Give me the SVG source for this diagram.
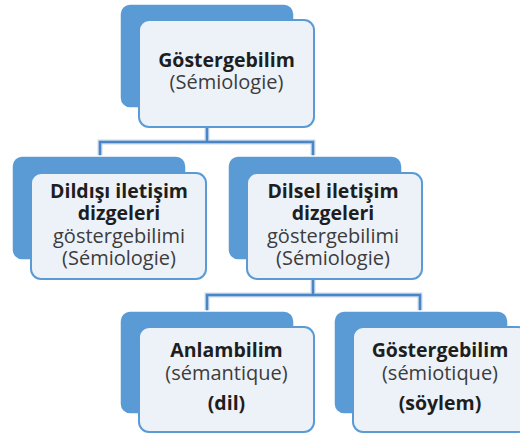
<svg xmlns="http://www.w3.org/2000/svg" width="520" height="434" viewBox="0 0 520 434">
<defs>
<style>
.back{fill:#5B9BD5;stroke:#ffffff;stroke-width:1.5}
.front{fill:#EDF2F9;stroke:#5B9BD5;stroke-width:2}
.conn{fill:none;stroke:#4A86C5;stroke-width:2.5}
.halo{fill:none;stroke:#C9DAEE;stroke-width:5}
text{font-family:"Open Sans","Liberation Sans",sans-serif;font-size:19.5px;text-anchor:middle}
.b{font-weight:bold;fill:#1E1E1E}
.r{fill:#3C3C3C;font-size:20px}
</style>
</defs>
<rect width="520" height="434" fill="#ffffff"/>
<g id="connectors">
<path class="halo" d="M207,108V142M100,156V142H313V156M313,260V295M207,311V295H420V311"/>
<path class="conn" d="M207,108V142M100,156V142H313V156M313,260V295M207,311V295H420V311"/>
</g>
<g id="node-root">
<rect class="back" x="120" y="4" width="174" height="104" rx="10"/>
<rect class="front" x="139" y="20" width="175" height="107" rx="10"/>
<text class="b" x="226.5" y="67">Göstergebilim</text>
<text class="r" x="226.5" y="89">(Sémiologie)</text>
</g>
<g id="node-dildisi">
<rect class="back" x="12" y="156" width="174" height="104" rx="10"/>
<rect class="front" x="31" y="173" width="175" height="106" rx="10"/>
<text class="b" x="119" y="198">Dildışı iletişim</text>
<text class="b" x="119" y="220">dizgeleri</text>
<text class="r" x="119" y="243">göstergebilimi</text>
<text class="r" x="119" y="265">(Sémiologie)</text>
</g>
<g id="node-dilsel">
<rect class="back" x="228" y="156" width="174" height="104" rx="10"/>
<rect class="front" x="247" y="173" width="175" height="106" rx="10"/>
<text class="b" x="333" y="198">Dilsel iletişim</text>
<text class="b" x="333" y="220">dizgeleri</text>
<text class="r" x="333" y="243">göstergebilimi</text>
<text class="r" x="333" y="265">(Sémiologie)</text>
</g>
<g id="node-anlambilim">
<rect class="back" x="120" y="311" width="174" height="103" rx="10"/>
<rect class="front" x="139" y="327" width="175" height="105" rx="10"/>
<text class="b" x="226.5" y="357">Anlambilim</text>
<text class="r" x="226.5" y="380">(sémantique)</text>
<text class="b" x="226.5" y="410">(dil)</text>
</g>
<g id="node-gostergebilim">
<rect class="back" x="334" y="311" width="174" height="103" rx="10"/>
<rect class="front" x="353" y="327" width="175" height="105" rx="10"/>
<text class="b" x="440" y="357">Göstergebilim</text>
<text class="r" x="440" y="380">(sémiotique)</text>
<text class="b" x="440" y="410">(söylem)</text>
</g>
</svg>
